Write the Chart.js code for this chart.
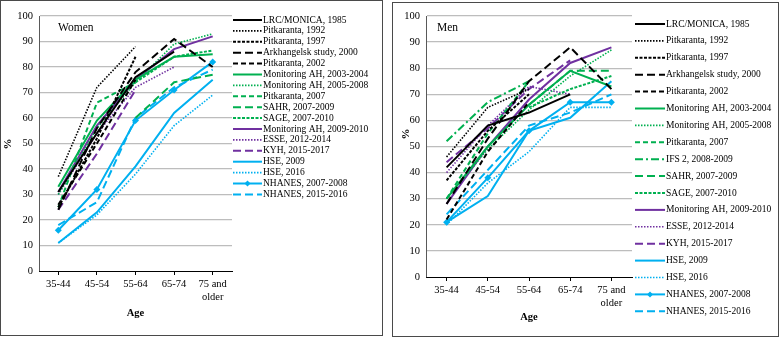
<!DOCTYPE html>
<html>
<head>
<meta charset="utf-8">
<script src="https://cdn.jsdelivr.net/npm/chart.js@4/dist/chart.umd.min.js"></script>
<style>
  body { margin: 0; background: #fff; width: 780px; height: 337px; position: relative; overflow: hidden; }
  .panel { position: absolute; border: 1px solid #4a4a4a; box-sizing: border-box; background: #fff; }
  canvas { display: block; }
</style>
</head>
<body>
<div class="panel" id="womenBox" style="left:0px;top:0px;width:383px;height:336px;"><canvas id="women" width="381" height="334"></canvas></div>
<div class="panel" id="menBox" style="left:392px;top:2px;width:387px;height:335px;"><canvas id="men" width="385" height="333"></canvas></div>
<script>
// age groups on the x axis
const ageGroups = ['35-44', '45-54', '55-64', '65-74', ['75 and', 'older']];

// Women, % per age group
const wLrc1985 = [31, 54, 76, 86, null];
const wPit1992 = [37, 72, 88, null, null];
const wPit1997 = [25, 52, 84, null, null];
const wArkh2000 = [24, 56, 78, 91, 80];
const wPit2002 = [26, 50, 75, null, null];
const wMah0304 = [33, 59, 75, 84, 85];
const wMah0508 = [30, 56, 74, 89, 93];
const wPit2007 = [25, 66, 74, null, null];
const wSahr = [null, null, 60, 74, 77];
const wSage = [null, null, 74, 84, 86.5];
const wMah0910 = [31, 57, 75, 87, 92];
const wEsse = [30, 54, 72, 80, null];
const wKyh = [24, 46, 71, null, null];
const wHse2009 = [11, 23, 41, 62, 75];
const wHse2016 = [11, 22, 38, 57, 69];
const wNh0708 = [16, 32, 59, 71, 82];
const wNh1516 = [18, 27, 60, 72, 79];

// Men
const mLrc1985 = [42, 58, 63, 70, null];
const mPit1992 = [46, 65, 72, null, null];
const mPit1997 = [37, 56, 70, null, null];
const mArkh2000 = [28, 53, 75, 88, 72];
const mPit2002 = [22, 48, 67, null, null];
const mMah0304 = [30, 50, 66, 79, 73];
const mMah0508 = [30, 49, 64, 77, 87];
const mPit2007 = [30, 55, 75, null, null];
const mIfs2 = [52, 67, 75, null, null];
const mSahr = [null, null, 66, 79, 79];
const mSage = [null, null, 65, 72, 77];
const mMah0910 = [28, 50, 68, 82, 88];
const mEsse = [40, 58, 73, 70, null];
const mKyh = [44, 57, 72, 83, null];
const mHse2009 = [21, 31, 56, 61, 75];
const mHse2016 = [20, 36, 48, 65, 65];
const mNh0708 = [21, 38, 56, 67, 67];
const mNh1516 = [24, 41, 58, 63, 70];

const BLACK = '#000000', GREEN = '#00b050', PURPLE = '#7030a0', BLUE = '#00b0f0';
const SOLID = [], DOT = [1.5, 1.5], SHORT = [3, 1.5], LONG = [8, 4], DASH = [5, 3], DASHDOT = [8, 3, 2, 3];

function s(label, data, color, dash, marker) {
  return { label: label, data: data, color: color, dash: dash, marker: marker || false };
}

const womenSeries = [
  s('LRC/MONICA, 1985', wLrc1985, BLACK, SOLID),
  s('Pitkaranta, 1992', wPit1992, BLACK, DOT),
  s('Pitkaranta, 1997', wPit1997, BLACK, SHORT),
  s('Arkhangelsk study, 2000', wArkh2000, BLACK, LONG),
  s('Pitkaranta, 2002', wPit2002, BLACK, DASH),
  s('Monitoring AH, 2003-2004', wMah0304, GREEN, SOLID),
  s('Monitoring AH, 2005-2008', wMah0508, GREEN, DOT),
  s('Pitkaranta, 2007', wPit2007, GREEN, DASH),
  s('SAHR, 2007-2009', wSahr, GREEN, LONG),
  s('SAGE, 2007-2010', wSage, GREEN, SHORT),
  s('Monitoring AH, 2009-2010', wMah0910, PURPLE, SOLID),
  s('ESSE, 2012-2014', wEsse, PURPLE, DOT),
  s('KYH, 2015-2017', wKyh, PURPLE, LONG),
  s('HSE, 2009', wHse2009, BLUE, SOLID),
  s('HSE, 2016', wHse2016, BLUE, DOT),
  s('NHANES, 2007-2008', wNh0708, BLUE, SOLID, true),
  s('NHANES, 2015-2016', wNh1516, BLUE, LONG)
];

const menSeries = [
  s('LRC/MONICA, 1985', mLrc1985, BLACK, SOLID),
  s('Pitkaranta, 1992', mPit1992, BLACK, DOT),
  s('Pitkaranta, 1997', mPit1997, BLACK, SHORT),
  s('Arkhangelsk study, 2000', mArkh2000, BLACK, LONG),
  s('Pitkaranta, 2002', mPit2002, BLACK, DASH),
  s('Monitoring AH, 2003-2004', mMah0304, GREEN, SOLID),
  s('Monitoring AH, 2005-2008', mMah0508, GREEN, DOT),
  s('Pitkaranta, 2007', mPit2007, GREEN, DASH),
  s('IFS 2, 2008-2009', mIfs2, GREEN, DASHDOT),
  s('SAHR, 2007-2009', mSahr, GREEN, LONG),
  s('SAGE, 2007-2010', mSage, GREEN, SHORT),
  s('Monitoring AH, 2009-2010', mMah0910, PURPLE, SOLID),
  s('ESSE, 2012-2014', mEsse, PURPLE, DOT),
  s('KYH, 2015-2017', mKyh, PURPLE, LONG),
  s('HSE, 2009', mHse2009, BLUE, SOLID),
  s('HSE, 2016', mHse2016, BLUE, DOT),
  s('NHANES, 2007-2008', mNh0708, BLUE, SOLID, true),
  s('NHANES, 2015-2016', mNh1516, BLUE, LONG)
];

const SERIF = "'Liberation Serif', 'Times New Roman', serif";

// draws the panel title, axis titles and the legend on the right
const decorPlugin = {
  id: 'decor',
  afterDraw(chart, args, opts) {
    const ctx = chart.ctx;
    const area = chart.chartArea;
    ctx.save();
    ctx.fillStyle = '#000';
    ctx.font = '11.5px ' + SERIF;
    ctx.textBaseline = 'middle';
    ctx.textAlign = 'left';
    ctx.fillText(opts.title, opts.titleX, opts.titleY);

    ctx.font = 'bold 10.5px ' + SERIF;
    ctx.textAlign = 'center';
    ctx.fillText('Age', (area.left + area.right) / 2, opts.ageY);

    ctx.save();
    ctx.translate(opts.pctX, opts.pctY);
    ctx.rotate(-Math.PI / 2);
    ctx.font = 'bold 11px ' + SERIF;
    ctx.fillText('%', 0, 0);
    ctx.restore();

    // legend
    ctx.font = '9.5px ' + SERIF;
    ctx.textAlign = 'left';
    chart.data.datasets.forEach((ds, i) => {
      const y = opts.legTop + i * opts.legStep;
      ctx.save();
      ctx.strokeStyle = ds.borderColor;
      ctx.lineWidth = ds.borderWidth;
      ctx.setLineDash(ds.borderDash || []);
      ctx.beginPath();
      ctx.moveTo(opts.legX0, y);
      ctx.lineTo(opts.legX1, y);
      ctx.stroke();
      if (ds.pointRadius > 0) {
        const cx = (opts.legX0 + opts.legX1) / 2;
        ctx.setLineDash([]);
        ctx.fillStyle = ds.borderColor;
        ctx.beginPath();
        ctx.moveTo(cx, y - 3);
        ctx.lineTo(cx + 3, y);
        ctx.lineTo(cx, y + 3);
        ctx.lineTo(cx - 3, y);
        ctx.closePath();
        ctx.fill();
      }
      ctx.restore();
      ctx.fillText(ds.label, opts.legX1 + 1, y);
    });
    ctx.restore();
  }
};

function makeChart(id, series, geom, decor) {
  const datasets = series.map(sr => ({
    label: sr.label,
    data: sr.data,
    borderColor: sr.color,
    backgroundColor: sr.color,
    borderDash: sr.dash,
    borderWidth: sr.dash === DOT ? 1.6 : 2,
    pointRadius: sr.marker ? 3.5 : 0,
    pointStyle: 'rectRot',
    pointBorderWidth: 0,
    tension: 0,
    spanGaps: false
  }));

  return new Chart(document.getElementById(id).getContext('2d'), {
    type: 'line',
    data: { labels: ageGroups, datasets: datasets },
    plugins: [decorPlugin],
    options: {
      responsive: false,
      animation: false,
      devicePixelRatio: 1,
      layout: { padding: { left: 0, top: geom.top, right: geom.right, bottom: 0 } },
      plugins: {
        legend: { display: false },
        tooltip: { enabled: false },
        decor: decor
      },
      scales: {
        x: {
          offset: true,
          grid: { drawOnChartArea: false, drawTicks: true, tickLength: 4, color: '#000' },
          border: { color: '#000', width: 1 },
          ticks: { color: '#000', font: { family: SERIF, size: 10.5 }, padding: 3, maxRotation: 0, autoSkip: false },
          afterFit: sc => { sc.height = geom.xh; }
        },
        y: {
          min: 0,
          max: 100,
          ticks: { stepSize: 10, color: '#000', font: { family: SERIF, size: 10.5 }, padding: 6 },
          grid: {
            drawTicks: false,
            lineWidth: 1.2,
            color: c => (c.tick && c.tick.value === 0) ? 'rgba(0,0,0,0)' : '#bdbdbd'
          },
          border: { color: '#595959', width: 1 },
          afterFit: sc => { sc.width = geom.yw; }
        }
      }
    }
  });
}

makeChart('women', womenSeries,
  { top: 15, right: 150, xh: 64, yw: 38 },
  { title: 'Women', titleX: 57, titleY: 27, ageY: 312, pctX: 7, pctY: 143,
    legTop: 19, legStep: 10.9, legX0: 232, legX1: 261 });

makeChart('men', menSeries,
  { top: 13, right: 146, xh: 59, yw: 33 },
  { title: 'Men', titleX: 44, titleY: 25, ageY: 314, pctX: 13, pctY: 131,
    legTop: 21, legStep: 16.9, legX0: 242, legX1: 272 });
</script>
</body>
</html>
